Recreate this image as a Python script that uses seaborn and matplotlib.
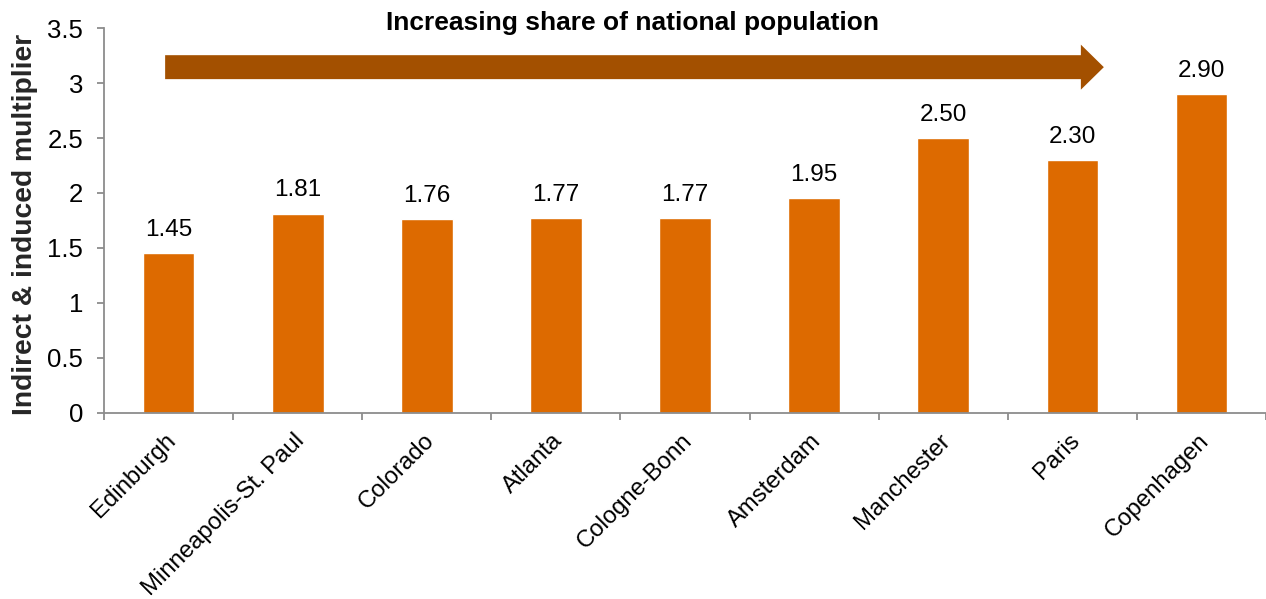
import matplotlib
matplotlib.use("Agg")
import matplotlib.pyplot as plt
from matplotlib.patches import Polygon
from matplotlib.ticker import FixedLocator
import matplotlib.transforms as mtransforms
import seaborn as sns
import pandas as pd
import numpy as np

cities = ["Edinburgh", "Minneapolis-St. Paul", "Colorado", "Atlanta", "Cologne-Bonn",
          "Amsterdam", "Manchester", "Paris", "Copenhagen"]
multipliers = [1.45, 1.81, 1.76, 1.77, 1.77, 1.95, 2.50, 2.30, 2.90]
value_labels = ["1.45", "1.81", "1.76", "1.77", "1.77", "1.95", "2.50", "2.30", "2.90"]
y_ticks = [0, 0.5, 1, 1.5, 2, 2.5, 3, 3.5]
y_tick_labels = ["0", "0.5", "1", "1.5", "2", "2.5", "3", "3.5"]

bar_color = "#DD6A00"
arrow_color = "#A35000"
axis_gray = "#8C8C8C"

sns.set_theme(style="white")
plt.rcParams["font.family"] = ["Liberation Sans", "DejaVu Sans"]

df = pd.DataFrame({"city": cities, "multiplier": multipliers})

fig = plt.figure(figsize=(12.66, 5.99), dpi=100)
ax = fig.add_axes([0.0822, 0.311, 0.9178, 0.642])

sns.barplot(data=df, x="city", y="multiplier", color=bar_color, width=0.4,
            saturation=1, ax=ax)

ax.set_xlim(-0.5, len(cities) - 0.5)
ax.set_ylim(0, 3.5)
ax.set_yticks(y_ticks)
ax.set_yticklabels(y_tick_labels, fontsize=18.5)

# category labels centred under bars, tick marks on category boundaries
ax.set_xticks(range(len(cities)))
ax.set_xticklabels(cities, rotation=45, ha="right", rotation_mode="anchor", fontsize=17.2)
ax.xaxis.set_minor_locator(FixedLocator(np.arange(-0.5, len(cities), 1.0)))
ax.tick_params(axis="x", which="major", length=0, pad=12, bottom=True)
ax.tick_params(axis="x", which="minor", length=5, width=1.3, color=axis_gray,
               direction="out", bottom=True)
ax.tick_params(axis="y", length=5, width=1.3, color=axis_gray, direction="out",
               pad=10, left=True)
ax.tick_params(axis="both", labelcolor="black")

# nudge category labels slightly left so their ends sit near the bar centre
shift = mtransforms.ScaledTranslation(-4 / 100, 0, fig.dpi_scale_trans)
for lbl in ax.get_xticklabels():
    lbl.set_transform(lbl.get_transform() + shift)

for side in ["top", "right"]:
    ax.spines[side].set_visible(False)
for side in ["left", "bottom"]:
    ax.spines[side].set_color(axis_gray)
    ax.spines[side].set_linewidth(1.3)

ax.set_xlabel("")
ax.set_ylabel("Indirect & induced multiplier", fontsize=20.3, fontweight="bold")
ax.yaxis.set_label_coords(-0.057, 0.49)

for patch, text in zip(ax.patches, value_labels):
    ax.annotate(text, (patch.get_x() + patch.get_width() / 2, patch.get_height()),
                xytext=(0, 9), textcoords="offset points",
                ha="center", va="bottom", fontsize=17.5, color="black")

# arrow along the top indicating population share
x0, x_head, x_tip = -0.027, 7.066, 7.244
y_c, half_shaft, half_head = 3.145, 0.109, 0.205
arrow = Polygon([(x0, y_c + half_shaft), (x_head, y_c + half_shaft), (x_head, y_c + half_head),
                 (x_tip, y_c), (x_head, y_c - half_head), (x_head, y_c - half_shaft),
                 (x0, y_c - half_shaft)],
                closed=True, facecolor=arrow_color, edgecolor="none", clip_on=False, zorder=3)
ax.add_patch(arrow)

fig.text(0.5, 0.961, "Increasing share of national population", ha="center", va="center",
         fontsize=19, fontweight="bold", color="black")

fig.savefig("out.png", dpi=100)
